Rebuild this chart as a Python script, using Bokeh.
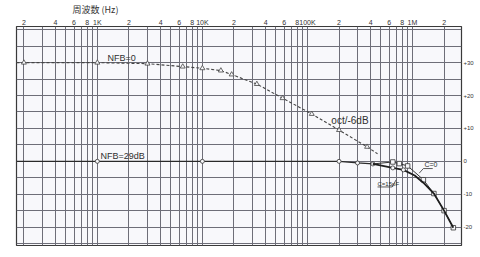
from bokeh.plotting import figure
from bokeh.models import FixedTicker, Label, Range1d
from bokeh.embed import file_html
from bokeh.resources import INLINE

# ---------------- data ----------------
# NFB = 0 (dashed, triangle markers)
nfb0_line_f = [170, 200, 1000, 3000, 6500, 10000, 15000, 19000, 33000, 58000, 110000, 200000, 370000, 465000]
nfb0_line_db = [30.0, 30.0, 30.0, 29.7, 28.8, 28.3, 27.6, 26.4, 23.5, 19.2, 14.4, 9.5, 4.4, 2.3]
nfb0_mark_f = [200, 1000, 3000, 6500, 10000, 15000, 19000, 33000, 58000, 110000, 200000, 370000]
nfb0_mark_db = [30.0, 30.0, 29.7, 28.8, 28.3, 27.6, 26.4, 23.5, 19.2, 14.4, 9.5, 4.4]

# NFB = 29 dB common part (solid, circle markers)
nfb29_line_f = [170, 1000, 10000, 200000, 300000, 420000]
nfb29_line_db = [0.0, 0.0, 0.0, 0.0, -0.5, -0.8]
nfb29_mark_f = [1000, 10000, 200000, 300000, 420000]
nfb29_mark_db = [0.0, 0.0, 0.0, -0.5, -0.8]

# C = 0 branch
c0_f = [420000, 650000, 750000, 900000, 1270000, 1600000, 2000000, 2450000]
c0_db = [-0.8, -0.2, -0.7, -1.4, -5.6, -9.8, -15.0, -20.2]

# C = 15pF branch
c15_f = [420000, 650000, 820000, 1050000, 1270000, 1600000, 2000000, 2450000]
c15_db = [-0.8, -2.0, -2.6, -4.3, -6.5, -9.8, -15.0, -20.2]
c15_mark_f = [650000, 820000]
c15_mark_db = [-2.0, -2.6]

# axis ticks / labels
x_tick_vals = [200, 400, 600, 800, 1000, 2000, 4000, 6000, 8000, 10000,
               20000, 40000, 60000, 80000, 100000, 200000, 400000, 600000, 800000,
               1000000, 2000000]
x_tick_labels = ["2", "4", "6", "8", "1K", "2", "4", "6", "8", "10K",
                 "2", "4", "6", "8", "100K", "2", "4", "6", "8", "1M", "2"]
y_tick_vals = [-20, -10, 0, 10, 20, 30]
y_tick_labels = ["-20", "-10", "0", "+10", "+20", "+30"]

grid_x = [m * 10 ** e for e in range(2, 7) for m in range(1, 10)
          if 170 <= m * 10 ** e <= 3000000]
grid_y = list(range(-25, 45, 5))

# ---------------- figure ----------------
p = figure(width=480, height=257, x_axis_type="log",
           x_axis_location="above", y_axis_location="right",
           x_range=Range1d(170, 2930000), y_range=Range1d(-25.6, 41),
           output_backend="svg", toolbar_location=None,
           min_border_left=16, min_border_right=19,
           min_border_top=25, min_border_bottom=12)

p.title.text = "周波数 (Hz)"
p.title.align = "left"
p.title.offset = 56
p.title.standoff = 0
p.title.text_font = "Noto Sans CJK JP"
p.title.text_font_size = "9px"
p.title.text_font_style = "normal"
p.title.text_color = "#333333"

p.background_fill_color = "#f8f8fb"
p.border_fill_color = "#ffffff"
p.outline_line_color = "#3a3a3a"
p.outline_line_width = 1.2

# axes
xa = p.xaxis[0]
xa.ticker = FixedTicker(ticks=x_tick_vals, minor_ticks=[])
xa.major_label_overrides = dict(zip(x_tick_vals, x_tick_labels))
xa.axis_line_color = None
xa.major_tick_line_color = None
xa.minor_tick_line_color = None
xa.major_tick_out = 0
xa.major_tick_in = 0
xa.minor_tick_out = 0
xa.major_label_standoff = 1
xa.major_label_text_font = "Liberation Sans"
xa.major_label_text_font_size = "7px"
xa.major_label_text_color = "#333333"

ya = p.yaxis[0]
ya.ticker = FixedTicker(ticks=y_tick_vals, minor_ticks=[])
ya.major_label_overrides = dict(zip(y_tick_vals, y_tick_labels))
ya.axis_line_color = None
ya.major_tick_line_color = None
ya.minor_tick_line_color = None
ya.major_tick_out = 0
ya.major_tick_in = 0
ya.minor_tick_out = 0
ya.major_label_standoff = 2
ya.major_label_text_font = "Liberation Sans"
ya.major_label_text_font_size = "6px"
ya.major_label_text_color = "#333333"

# grids
p.xgrid[0].ticker = FixedTicker(ticks=grid_x)
p.ygrid[0].ticker = FixedTicker(ticks=grid_y)
p.xgrid.grid_line_color = "#6e6e78"
p.ygrid.grid_line_color = "#6e6e78"
p.xgrid.grid_line_width = 1
p.ygrid.grid_line_width = 1

# curves
p.line(nfb0_line_f, nfb0_line_db, line_color="#444444", line_width=1.1, line_dash="3 2")
p.scatter(nfb0_mark_f, nfb0_mark_db, marker="triangle", size=5,
          fill_color="#f8f8fb", line_color="#444444", line_width=0.8)

p.line(nfb29_line_f, nfb29_line_db, line_color="#2a2a2a", line_width=1.3)
p.scatter(nfb29_mark_f, nfb29_mark_db, marker="circle", size=4,
          fill_color="#f8f8fb", line_color="#333333", line_width=0.8)

p.line(c0_f, c0_db, line_color="#333333", line_width=1.0)
p.scatter(c0_f[1:], c0_db[1:], marker="square", size=4.5,
          fill_color="#f8f8fb", line_color="#333333", line_width=0.8)

p.line(c15_f, c15_db, line_color="#1e1e1e", line_width=1.8)
p.scatter(c15_mark_f, c15_mark_db, marker="circle", size=4,
          fill_color="#f8f8fb", line_color="#333333", line_width=0.8)

# annotation leader lines / underlines
p.line([1270000, 1560000], [-2.2, -2.2], line_color="#333333", line_width=0.8)
p.line([1160000, 1270000], [-3.6, -2.2], line_color="#333333", line_width=0.8)
p.line([465000, 640000], [-7.8, -7.8], line_color="#333333", line_width=0.8)
p.line([640000, 700000], [-7.8, -5.6], line_color="#333333", line_width=0.8)

# texts
def lab(x, y, t, size, align="left", font="Liberation Sans"):
    p.add_layout(Label(x=x, y=y, text=t, text_font=font, text_font_size=size,
                       text_color="#2f2f2f", text_align=align,
                       text_baseline="middle"))

lab(1250, 31.3, "NFB=0", "9px")
lab(1070, 1.7, "NFB=29dB", "9px")
lab(169000, 12.5, "oct/-6dB", "10px")
lab(1300000, -1.1, "C=0", "7px")
lab(465000, -6.8, "C=15pF", "6px")

open("out.html", "w").write(file_html(p, INLINE))
